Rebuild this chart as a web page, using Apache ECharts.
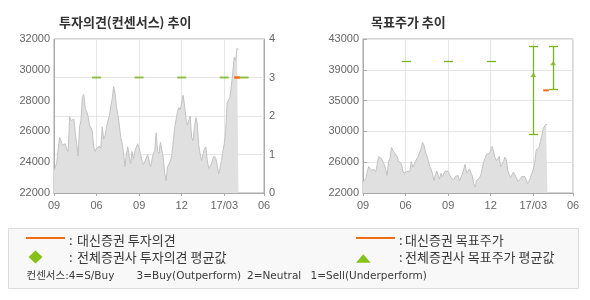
<!DOCTYPE html>
<html><head><meta charset="utf-8">
<script src="https://cdn.jsdelivr.net/npm/echarts@6/dist/echarts.min.js"></script>
<style>html,body{margin:0;padding:0;background:#fff}#c{width:590px;height:300px}</style>
</head><body><div id="c"></div>
<script>
// ---- data ----
const tickLabels = ['09', '06', '09', '12', '17/03', '06'];
const tickIdx = [0, 30, 60, 90, 120, 148];
const priceTicksLeft = [22000, 24000, 26000, 28000, 30000, 32000];
const opinionTicks = [0, 1, 2, 3, 4];
const priceTicksRight = ['22000', '26000', '30000', '35000', '39000', '43000'];

const price = [
  23500,23700,24000,24900,25600,25500,25100,25200,25200,24850,24700,26950,26700,26700,26800,25900,25200,24400,26300,26700,
  28200,28400,27500,27300,27000,26400,26250,26000,25000,24700,24900,24950,25050,
  24900,26300,25500,25700,26300,26700,27000,27600,28100,28900,28500,27600,27100,26450,25600,25250,24600,23700,24500,25000,
  24400,23900,24700,24200,24700,25000,25200,24950,24500,24100,23850,23800,24250,24500,24400,23700,23800,24550,24750,25900,
  24700,24550,25300,25400,24300,23300,22800,23700,23800,24050,24450,25300,26200,26750,27300,27550,27400,27400,28350,27700,
  26850,26400,26500,27000,25600,25400,26300,26900,26500,25100,24550,24100,
  24500,24850,25000,24150,23600,23650,23900,24250,24400,24250,23850,23250,23600,24100,24700,25200,26000,27850,28050,28200,
  29000,29800,30800,30600,31400,31300
];

const consensusIdx = [30, 60, 90, 120, 134];
const consensusAvg = [3, 3, 3, 3, 3];
const daishinOpinionIdx = [127, 131];
const daishinOpinion = [3, 3];

const targetIdx = [30, 60, 90, 120, 134];
const targetMin = [40000, 40000, 40000, 30000, 36200];
const targetMax = [40000, 40000, 40000, 42000, 42000];
const targetAvg = [null, null, null, 38100, 39700];
const daishinTargetIdx = [127, 131];
const daishinTarget = [36000, 36000];

// ---- style ----
const GREEN = '#78b41a', ORANGE = '#f26c12', GRID = '#e6e6e6', AXIS = '#aaaaaa', LBL = '#666';
const KR = '"Noto Sans CJK KR", sans-serif';
const NUM = '"Liberation Sans", Arial, sans-serif';
const nCats = tickIdx[tickIdx.length - 1] + 1;
const cats = Array.from({length: nCats}, (_, i) => {
  const k = tickIdx.indexOf(i); return k >= 0 ? tickLabels[k] : '';
});
const isTick = (i) => tickIdx.indexOf(i) >= 0;

function xAxis(gi) {
  return {
    type: 'category', gridIndex: gi, data: cats, boundaryGap: false,
    axisLine: {lineStyle: {color: AXIS}},
    axisTick: {show: true, interval: isTick, length: 3, lineStyle: {color: AXIS}},
    axisLabel: {interval: isTick, fontSize: 11, color: LBL, fontFamily: NUM, margin: 7},
    splitLine: {show: true, interval: isTick, lineStyle: {color: GRID}}
  };
}

const chart = echarts.init(document.getElementById('c'), null, {renderer: 'canvas'});

function errBar(params, api) {
  const x = api.value(0), lo = api.value(1), hi = api.value(2);
  const a = api.coord([x, lo]), b = api.coord([x, hi]);
  const cx = Math.round(a[0]) + 0.5, yl = Math.round(a[1]) + 0.5, yh = Math.round(b[1]) + 0.5;
  const st = {stroke: GREEN, lineWidth: 1.3};
  const ch = [];
  if (hi !== lo) ch.push({type: 'line', shape: {x1: cx, y1: yh, x2: cx, y2: yl}, style: st});
  ch.push({type: 'line', shape: {x1: cx - 4.5, y1: yh, x2: cx + 4.5, y2: yh}, style: st});
  if (hi !== lo) ch.push({type: 'line', shape: {x1: cx - 4.5, y1: yl, x2: cx + 4.5, y2: yl}, style: st});
  return {type: 'group', children: ch};
}

const txt = (x, y, s, size, family) => ({
  type: 'text', x: x, y: y,
  style: {text: s, fontSize: size, fontFamily: family, fill: '#3a3a3a', verticalAlign: 'middle'}
});
const SFAM = '"DejaVu Sans", "Noto Sans CJK KR"';

chart.setOption({
  animation: false,
  title: [
    {text: '투자의견(컨센서스) 추이', left: 54, top: 11, textStyle: {fontSize: 13, fontWeight: 'bold', color: '#333', fontFamily: KR}},
    {text: '목표주가 추이', left: 366, top: 11, textStyle: {fontSize: 13, fontWeight: 'bold', color: '#333', fontFamily: KR}}
  ],
  grid: [
    {left: 54, top: 39, width: 210, height: 154, show: true, borderColor: AXIS, borderWidth: 1, backgroundColor: 'transparent'},
    {left: 363, top: 39, width: 210, height: 154, show: true, borderColor: AXIS, borderWidth: 1, backgroundColor: 'transparent'}
  ],
  xAxis: [xAxis(0), xAxis(1)],
  yAxis: [
    {type: 'value', gridIndex: 0, position: 'left', min: priceTicksLeft[0], max: priceTicksLeft[priceTicksLeft.length - 1], interval: 2000,
     splitLine: {show: false}, axisLine: {show: true, lineStyle: {color: AXIS}}, axisTick: {show: false},
     axisLabel: {fontSize: 11, color: LBL, fontFamily: NUM, margin: 4, formatter: (v) => String(v)}},
    {type: 'value', gridIndex: 0, position: 'right', min: opinionTicks[0], max: opinionTicks[opinionTicks.length - 1], interval: 1,
     splitLine: {show: true, lineStyle: {color: GRID}}, axisLine: {show: true, lineStyle: {color: AXIS}}, axisTick: {show: false},
     axisLabel: {fontSize: 11, color: LBL, fontFamily: NUM, margin: 5}},
    {type: 'value', gridIndex: 1, position: 'left', min: 22000, max: 43000, interval: 4200,
     splitLine: {show: true, lineStyle: {color: GRID}}, axisLine: {show: true, lineStyle: {color: AXIS}},
     axisTick: {show: true, inside: true, length: 4, lineStyle: {color: AXIS}},
     axisLabel: {fontSize: 11, color: LBL, fontFamily: NUM, margin: 4,
       formatter: (v) => priceTicksRight[Math.round((v - 22000) / 4200)]}}
  ],
  series: [
    {type: 'line', xAxisIndex: 0, yAxisIndex: 0, data: price, symbol: 'none', silent: true,
     lineStyle: {color: '#c2c2c2', width: 1}, areaStyle: {color: '#e0e0e0', opacity: 1, origin: 'start'}, z: 2},
    {type: 'line', xAxisIndex: 1, yAxisIndex: 2, data: price, symbol: 'none', silent: true,
     lineStyle: {color: '#c2c2c2', width: 1}, areaStyle: {color: '#e0e0e0', opacity: 1, origin: 'start'}, z: 2},
    {type: 'scatter', xAxisIndex: 0, yAxisIndex: 1, symbol: 'rect', symbolSize: [9, 2],
     data: consensusIdx.map((x, k) => [x, consensusAvg[k]]), itemStyle: {color: GREEN}, z: 4},
    {type: 'line', xAxisIndex: 0, yAxisIndex: 1, symbol: 'none',
     data: daishinOpinionIdx.map((x, k) => [x, daishinOpinion[k]]), lineStyle: {color: ORANGE, width: 2.5}, z: 5},
    {type: 'custom', xAxisIndex: 1, yAxisIndex: 2, renderItem: errBar,
     data: targetIdx.map((x, k) => [x, targetMin[k], targetMax[k]]), z: 4},
    {type: 'scatter', xAxisIndex: 1, yAxisIndex: 2, symbol: 'triangle', symbolSize: [6, 4],
     data: targetIdx.map((x, k) => [x, targetAvg[k]]).filter(d => d[1] !== null), itemStyle: {color: GREEN}, z: 5},
    {type: 'line', xAxisIndex: 1, yAxisIndex: 2, symbol: 'none',
     data: daishinTargetIdx.map((x, k) => [x, daishinTarget[k]]), lineStyle: {color: ORANGE, width: 2}, z: 5}
  ],
  graphic: [
    {type: 'rect', shape: {x: 8.5, y: 228.5, width: 570, height: 60}, style: {fill: '#f8f8f8', stroke: '#dcdcdc', lineWidth: 1}, z: 0},
    {type: 'line', shape: {x1: 26, y1: 238, x2: 65, y2: 238}, style: {stroke: ORANGE, lineWidth: 2}},
    txt(69, 240, ':', 13, KR), txt(77, 240.5, '대신증권 투자의견', 13, KR),
    {type: 'polygon', shape: {points: [[35.5, 250.5], [42.5, 257], [35.5, 263.5], [28.5, 257]]}, style: {fill: '#86c11a'}},
    txt(69, 257, ':', 13, KR), txt(77, 257.5, '전체증권사 투자의견 평균값', 13, KR),
    txt(26.5, 276.5, '컨센서스:4=S/Buy', 10.5, SFAM),
    txt(136.5, 276.5, '3=Buy(Outperform)', 10.5, SFAM),
    txt(247, 276.5, '2=Neutral', 10.5, SFAM),
    txt(310.5, 276.5, '1=Sell(Underperform)', 10.5, SFAM),
    {type: 'line', shape: {x1: 356, y1: 238, x2: 395, y2: 238}, style: {stroke: ORANGE, lineWidth: 2}},
    txt(399, 240, ':', 13, KR), txt(405, 240.5, '대신증권 목표주가', 13, KR),
    {type: 'polygon', shape: {points: [[363.3, 254.3], [370.7, 262.7], [356, 262.7]]}, style: {fill: '#86c11a'}},
    txt(399, 257, ':', 13, KR), txt(405, 257.5, '전체증권사 목표주가 평균값', 13, KR)
  ]
});
</script></body></html>
